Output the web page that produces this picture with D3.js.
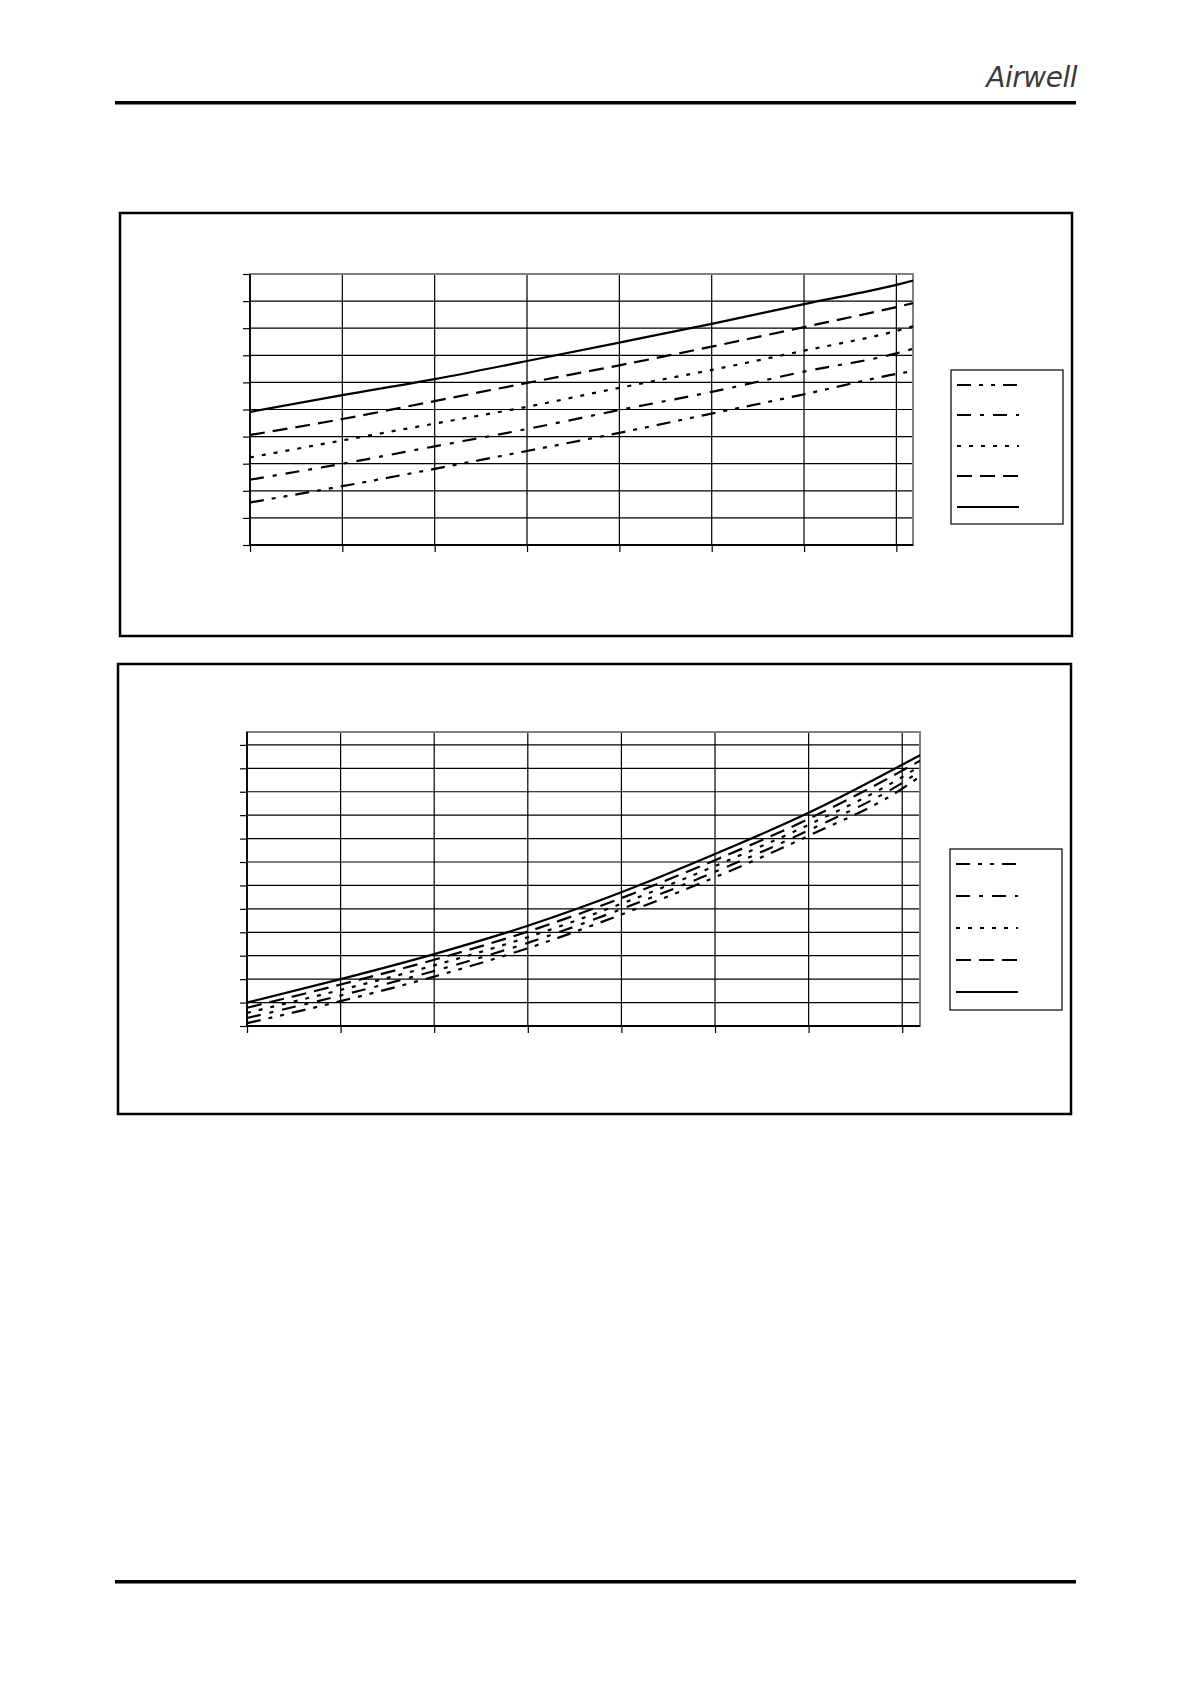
<!DOCTYPE html>
<html>
<head>
<meta charset="utf-8">
<script src="https://cdn.jsdelivr.net/npm/d3@7"></script>
<style>
  html, body { margin: 0; padding: 0; background: #fff; }
  svg { display: block; }
</style>
</head>
<body>
<svg id="page" width="1190" height="1684"></svg>
<script>
// ---------- DATA ----------
const xValues = [0, 1, 2, 3, 4, 5, 6, 7, 7.2];
const xTicks = [0, 1, 2, 3, 4, 5, 6, 7];
const yTicks1 = [0, 1, 2, 3, 4, 5, 6, 7, 8, 9, 10];
const yTicks2 = [0, 1, 2, 3, 4, 5, 6, 7, 8, 9, 10, 11, 12];

// chart 1 series (top to bottom in plot)
const c1Solid   = [4.91, 5.53, 6.12, 6.79, 7.47, 8.16, 8.89, 9.60, 9.77];
const c1Dashed  = [4.06, 4.65, 5.31, 5.98, 6.63, 7.32, 8.04, 8.78, 8.94];
const c1Dotted  = [3.23, 3.86, 4.48, 5.10, 5.80, 6.46, 7.17, 7.90, 8.09];
const c1DashDot = [2.41, 3.00, 3.64, 4.28, 4.98, 5.65, 6.40, 7.07, 7.26];
const c1DashDotDot = [1.57, 2.17, 2.81, 3.47, 4.14, 4.85, 5.56, 6.31, 6.43];

// chart 2 series
const c2Solid   = [1.00, 2.00, 3.07, 4.28, 5.71, 7.34, 9.10, 11.15, 11.58];
const c2Dashed  = [0.78, 1.77, 2.83, 4.03, 5.46, 7.08, 8.84, 10.90, 11.35];
const c2Dotted  = [0.56, 1.54, 2.59, 3.79, 5.22, 6.83, 8.59, 10.63, 11.12];
const c2DashDot = [0.34, 1.30, 2.35, 3.55, 4.99, 6.58, 8.35, 10.38, 10.90];
const c2DashDotDot = [0.12, 1.06, 2.11, 3.32, 4.76, 6.35, 8.12, 10.13, 10.68];

// legend order (top to bottom)
const legendOrder = ["dashDotDot", "dashDot", "dotted", "dashed", "solid"];

// ---------- STYLES ----------
const dashStyles = {
  solid: null,
  dashed: "15,8",
  dotted: "4,8",
  dashDot: "14,9,4,9",
  dashDotDot: "14,8,4,8,4,8"
};

const svg = d3.select("#page");

// header / footer rules
svg.append("rect").attr("x", 115).attr("y", 101).attr("width", 961).attr("height", 3.5).attr("fill", "#000");
svg.append("rect").attr("x", 115).attr("y", 1580).attr("width", 961).attr("height", 3.5).attr("fill", "#000");
svg.append("text")
  .attr("x", 1077).attr("y", 87)
  .attr("text-anchor", "end")
  .attr("font-family", "DejaVu Sans")
  .attr("font-style", "italic")
  .attr("font-size", 28)
  .attr("letter-spacing", -0.5)
  .attr("fill", "#3a3a3a")
  .text("Airwell");

function drawChart(cfg) {
  const g = svg.append("g");
  // outer frame
  g.append("rect")
    .attr("x", cfg.box[0]).attr("y", cfg.box[1])
    .attr("width", cfg.box[2] - cfg.box[0]).attr("height", cfg.box[3] - cfg.box[1])
    .attr("fill", "none").attr("stroke", "#000").attr("stroke-width", 2.5);

  const x = d3.scaleLinear().domain([0, cfg.xMax]).range([cfg.plot[0], cfg.plot[2]]);
  const y = d3.scaleLinear().domain([0, cfg.yMax]).range([cfg.plot[3], cfg.plot[1]]);

  // horizontal gridlines
  g.append("g").selectAll("line").data(cfg.yTicks).join("line")
    .attr("x1", cfg.plot[0]).attr("x2", cfg.plot[2])
    .attr("y1", d => y(d)).attr("y2", d => y(d))
    .attr("stroke", "#000").attr("stroke-width", 1.2);
  // vertical gridlines
  g.append("g").selectAll("line").data(cfg.xTicks).join("line")
    .attr("x1", d => x(d)).attr("x2", d => x(d))
    .attr("y1", cfg.plot[1]).attr("y2", cfg.plot[3])
    .attr("stroke", "#000").attr("stroke-width", 1.2);

  // plot border (gray)
  g.append("rect")
    .attr("x", cfg.plot[0]).attr("y", cfg.plot[1])
    .attr("width", cfg.plot[2] - cfg.plot[0]).attr("height", cfg.plot[3] - cfg.plot[1])
    .attr("fill", "none").attr("stroke", "#808080").attr("stroke-width", 2);

  // axes
  const yAxis = d3.axisLeft(y).tickValues(cfg.yTicks).tickSize(7).tickFormat("");
  const xAxis = d3.axisBottom(x).tickValues(cfg.xTicks).tickSize(7).tickFormat("");
  const ya = g.append("g").attr("transform", `translate(${cfg.plot[0]},0)`).call(yAxis);
  const xa = g.append("g").attr("transform", `translate(0,${cfg.plot[3]})`).call(xAxis);
  [ya, xa].forEach(a => {
    a.select(".domain").attr("stroke", "#000").attr("stroke-width", 1.8);
    a.selectAll(".tick line").attr("stroke", "#000").attr("stroke-width", 1.2);
  });
  ya.select(".domain").attr("d", `M0,${cfg.plot[3]}V${cfg.plot[1]}`);
  xa.select(".domain").attr("d", `M${cfg.plot[0]},0H${cfg.plot[2]}`);

  // series lines
  const line = d3.line().x(d => x(d[0])).y(d => y(d[1])).curve(d3.curveMonotoneX);
  const clipId = "clip" + cfg.id;
  g.append("clipPath").attr("id", clipId).append("rect")
    .attr("x", cfg.plot[0]).attr("y", cfg.plot[1] - 2)
    .attr("width", cfg.plot[2] - cfg.plot[0]).attr("height", cfg.plot[3] - cfg.plot[1] + 4);
  const lg = g.append("g").attr("clip-path", `url(#${clipId})`);
  Object.entries(cfg.series).forEach(([key, vals]) => {
    lg.append("path")
      .datum(xValues.map((xv, i) => [xv, vals[i]]))
      .attr("d", line)
      .attr("fill", "none")
      .attr("stroke", "#000")
      .attr("stroke-width", 2.2)
      .attr("stroke-dasharray", dashStyles[key]);
  });

  // legend
  const L = cfg.legend;
  g.append("rect")
    .attr("x", L.box[0]).attr("y", L.box[1])
    .attr("width", L.box[2] - L.box[0]).attr("height", L.box[3] - L.box[1])
    .attr("fill", "#fff").attr("stroke", "#000").attr("stroke-width", 1.2);
  g.append("g").selectAll("line").data(legendOrder).join("line")
    .attr("x1", L.box[0] + 6).attr("x2", L.box[0] + 68)
    .attr("y1", (d, i) => L.rows[i]).attr("y2", (d, i) => L.rows[i])
    .attr("stroke", "#000").attr("stroke-width", 2.2)
    .attr("stroke-dasharray", d => dashStyles[d]);
}

drawChart({
  id: 1,
  box: [120, 213, 1072, 636],
  plot: [250, 274, 913, 545],
  xMax: 7.18, yMax: 10,
  xTicks: xTicks, yTicks: yTicks1,
  series: { solid: c1Solid, dashed: c1Dashed, dotted: c1Dotted, dashDot: c1DashDot, dashDotDot: c1DashDotDot },
  legend: { box: [951, 370, 1063, 524], rows: [385, 415, 446, 476, 507] }
});

drawChart({
  id: 2,
  box: [118, 664, 1071, 1114],
  plot: [247, 732, 920, 1026],
  xMax: 7.19, yMax: 12.55,
  xTicks: xTicks, yTicks: yTicks2,
  series: { solid: c2Solid, dashed: c2Dashed, dotted: c2Dotted, dashDot: c2DashDot, dashDotDot: c2DashDotDot },
  legend: { box: [950, 849, 1062, 1010], rows: [864, 896, 928, 960, 992] }
});
</script>
</body>
</html>
